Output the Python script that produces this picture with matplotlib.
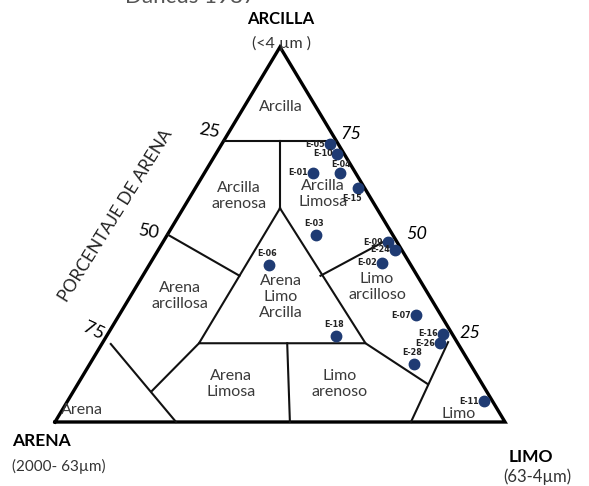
import matplotlib.pyplot as plt

# Muestras: composicion (%) arena / limo / arcilla
muestras = ['E-05', 'E-10', 'E-04', 'E-01', 'E-15', 'E-03', 'E-09', 'E-24',
            'E-02', 'E-06', 'E-07', 'E-18', 'E-16', 'E-26', 'E-28', 'E-11']
arena = [2, 1.5, 3.5, 9.5, 1.5, 17, 2, 1.5, 6, 31.5, 5.5, 26, 2, 4, 12.5, 2]
limo = [24, 27, 30, 24, 36, 33, 50, 52.5, 51.5, 26.5, 66, 51, 74.5, 75, 72, 92.5]
arcilla = [74, 71.5, 66.5, 66.5, 62.5, 50, 48, 46, 42.5, 42, 28.5, 23, 23.5, 21, 15.5, 5.5]

# Limites de clases (arena, limo, arcilla) en %
limites = [
    [(25, 0, 75), (0, 25, 75)],
    [(12.5, 12.5, 75), (21.5, 21.5, 57)],
    [(21.5, 21.5, 57), (57.5, 21.5, 21), (20.5, 58.5, 21), (21.5, 21.5, 57)],
    [(50, 0, 50), (39.5, 21.5, 39)],
    [(1, 50, 49), (21.5, 39.5, 39)],
    [(37.9, 41.1, 21), (47.8, 52.2, 0)],
    [(77.2, 2, 20.8), (73.1, 26.9, 0)],
    [(57.5, 21.5, 21), (74.3, 17.4, 8.3)],
    [(20.5, 58.5, 21), (12.1, 77.8, 10.1)],
    [(20.9, 79.1, 0), (2, 76.7, 21.3)],
]

X0, Y0, W, H = 55, 422, 450, 375


def tern(a, s, c):
    tot = a + s + c
    s, c = s / tot, c / tot
    return X0 + W * (s + c / 2), Y0 - H * c


plt.rcParams['font.family'] = ['Lato', 'DejaVu Sans']
fig = plt.figure(figsize=(5.89, 4.86), dpi=100)
ax = fig.add_axes([0, 0, 1, 1])
ax.set_xlim(0, 589)
ax.set_ylim(486, 0)
ax.axis('off')

# Triangulo
esq = [tern(100, 0, 0), tern(0, 100, 0), tern(0, 0, 100), tern(100, 0, 0)]
ax.plot([p[0] for p in esq], [p[1] for p in esq], color='black', lw=2.4,
        solid_joinstyle='miter')

for lin in limites:
    pts = [tern(*p) for p in lin]
    ax.plot([p[0] for p in pts], [p[1] for p in pts], color='#111111', lw=1.5)

# Puntos
lk = dict(fontsize=5.8, fontweight='bold', color='#222222', family='DejaVu Sans')
for n, a, s, c in zip(muestras, arena, limo, arcilla):
    x, y = tern(a, s, c)
    ax.plot(x, y, 'o', color='#1f3b73', ms=7.5)
    if n in ('E-03', 'E-06', 'E-18', 'E-28'):
        ax.text(x - 2, y - 7, n, ha='center', va='bottom', **lk)
    elif n == 'E-15':
        ax.text(x - 6, y + 6, n, ha='center', va='top', **lk)
    elif n == 'E-04':
        ax.text(x + 1, y - 8, n, ha='center', va='center', **lk)
    else:
        ax.text(x - 5, y, n, ha='right', va='center', **lk)

# Nombres de clases
kw = dict(fontsize=11.5, color='#3a3a3a', ha='center', va='center', linespacing=1.2)
ax.text(281, 107, 'Arcilla', **kw)
ax.text(239, 196, 'Arcilla\narenosa', **kw)
ax.text(323, 194, 'Arcilla\nLimosa', **kw)
ax.text(281, 297, 'Arena\nLimo\nArcilla', **kw)
ax.text(180, 296, 'Arena\narcillosa', **kw)
ax.text(377, 287, 'Limo\narcilloso', **kw)
ax.text(231, 384, 'Arena\nLimosa', **kw)
ax.text(340, 384, 'Limo\narenoso', **kw)
ax.text(82, 410, 'Arena', **kw)
ax.text(459, 414, 'Limo', **kw)

# Escalas
ax.text(209, 131, '25', fontsize=13, ha='center', va='center', rotation=-10)
ax.text(149, 232, '50', fontsize=13, ha='center', va='center', rotation=-10)
ax.text(94, 331, '75', fontsize=13, ha='center', va='center', rotation=-25)
ax.text(351, 134, '75', fontsize=13, ha='center', va='center', style='italic')
ax.text(417, 234, '50', fontsize=13, ha='center', va='center', style='italic')
ax.text(470, 333, '25', fontsize=13, ha='center', va='center', style='italic')
ax.text(116, 216, 'PORCENTAJE DE ARENA', fontsize=12.5, ha='center', va='center',
        rotation=58, color='#222222')

# Vertices
ax.text(281, 19, 'ARCILLA', fontsize=12, fontweight='bold', ha='center', va='center')
ax.text(281, 43, '(<4 µm )', fontsize=11.5, ha='center', va='center', color='#333333')
ax.text(12, 441, 'ARENA', fontsize=12.5, fontweight='bold', ha='left', va='center')
ax.text(12, 466, '(2000- 63µm)', fontsize=11, ha='left', va='center', color='#333333')
ax.text(509, 457, 'LIMO', fontsize=12.5, fontweight='bold', ha='left', va='center')
ax.text(503, 477, '(63-4µm)', fontsize=12, ha='left', va='center', color='#333333')
ax.text(190, -3, 'Dancus 1987', fontsize=16, ha='center', va='center', color='#555555')

fig.savefig('out.png', dpi=100)
